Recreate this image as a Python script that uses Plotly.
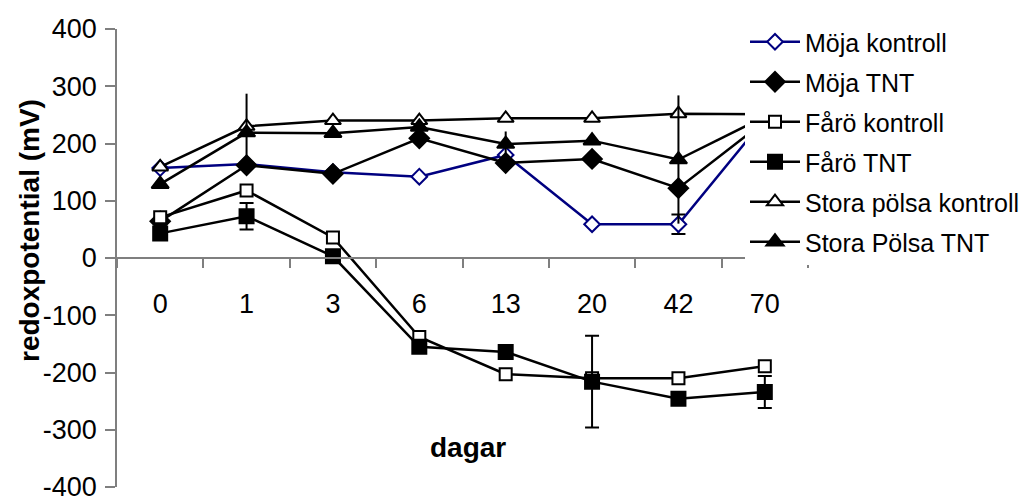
import plotly.graph_objects as go

days = ["0", "1", "3", "6", "13", "20", "42", "70"]

moja_kontroll = [157, 164, 150, 142, 180, 59, 59, 243]
moja_tnt = [64, 162, 147, 209, 166, 173, 122, 239]
faro_kontroll = [71, 118, 36, -138, -203, -210, -210, -189]
faro_tnt = [43, 73, 3, -155, -164, -216, -246, -234]
sp_kontroll = [159, 230, 240, 240, 244, 244, 252, 251]
sp_tnt = [129, 219, 218, 229, 199, 205, 172, 247]

moja_kontroll_err = [0, 0, 0, 0, 0, 0, 17, 0]
faro_tnt_err = [0, 23, 0, 0, 0, 80, 0, 28]
sp_tnt_err = [0, 68, 0, 0, 22, 0, 112, 0]

y_ticks = [-400, -300, -200, -100, 0, 100, 200, 300, 400]
y_tick_text = ["-400", "-300", "-200", "-100", "0", "100", "200", "300", "400"]

FONT = "Liberation Sans, Arial, sans-serif"
NAVY = "#000080"

fig = go.Figure()

def add(name, y, color, symbol, fill, size, err=None, capw=0):
    kw = {}
    if err is not None:
        kw["error_y"] = dict(type="data", array=err, symmetric=True,
                             color="black", thickness=2, width=capw, visible=True)
    fig.add_trace(go.Scatter(
        x=days, y=y, name=name, mode="lines+markers",
        legendgroup=name,
        line=dict(color=color, width=2.5),
        marker=dict(symbol=symbol, size=size, color=fill,
                    line=dict(color=color, width=2)),
        **kw))

add("Möja kontroll", moja_kontroll, NAVY, "diamond", "white", 12, moja_kontroll_err, 7)
add("Möja TNT", moja_tnt, "black", "diamond", "black", 15)
add("Fårö kontroll", faro_kontroll, "black", "square", "white", 12)
add("Fårö TNT", faro_tnt, "black", "square", "black", 14, faro_tnt_err, 7)
add("Stora pölsa kontroll", sp_kontroll, "black", "triangle-up", "white", 14)
add("Stora Pölsa TNT", sp_tnt, "black", "triangle-up", "black", 15, sp_tnt_err, 0)

W, H = 1025, 498
L, R, T, B = 117, 217, 29, 11
PW, PH = W - L - R, H - T - B

def px2paper(px, py):
    return (px - L) / PW, (H - B - py) / PH

ax_x, ax_y = px2paper(468, 447)
ay_x, ay_y = px2paper(29, 231)
lg_x, lg_y = px2paper(745, 19)

fig.update_layout(
    width=W, height=H,
    margin=dict(l=L, r=R, t=T, b=B, autoexpand=False),
    paper_bgcolor="white", plot_bgcolor="white",
    font=dict(family=FONT, size=27, color="black"),
    showlegend=True,
    legend=dict(
        x=lg_x, y=lg_y, xanchor="left", yanchor="top",
        bgcolor="white", borderwidth=0,
        font=dict(family=FONT, size=25, color="black"),
        itemwidth=50, tracegroupgap=4.5,
        traceorder="grouped",
    ),
    xaxis=dict(
        type="category", categoryorder="array", categoryarray=days,
        range=[-0.5, 7.5], anchor="free", position=0.5,
        showline=True, linecolor="#7f7f7f", linewidth=1.5,
        ticks="outside", tickson="boundaries", ticklen=9, tickcolor="#7f7f7f",
        tickwidth=1.5, showgrid=False, zeroline=False,
        ticklabelstandoff=22,
        tickfont=dict(family=FONT, size=27, color="black"),
        automargin=False,
    ),
    yaxis=dict(
        range=[-400, 400], tickvals=y_ticks, ticktext=y_tick_text, domain=[0, 1],
        showline=True, linecolor="#7f7f7f", linewidth=1.5,
        ticks="outside", ticklen=10, tickcolor="#7f7f7f", tickwidth=1.5,
        showgrid=False, zeroline=False, ticklabeloverflow="allow",
        ticklabelstandoff=3,
        tickfont=dict(family=FONT, size=27, color="black"),
        automargin=False,
    ),
    annotations=[
        dict(text="<b>dagar</b>", x=ax_x, y=ax_y, xref="paper", yref="paper",
             xanchor="center", yanchor="middle",
             showarrow=False, font=dict(family=FONT, size=28, color="black")),
        dict(text="<b>redoxpotential (mV)</b>", x=ay_x, y=ay_y, xref="paper",
             yref="paper", textangle=-90, xanchor="center", yanchor="middle",
             showarrow=False, font=dict(family=FONT, size=28, color="black")),
    ],
)

fig.write_html("out.html")
